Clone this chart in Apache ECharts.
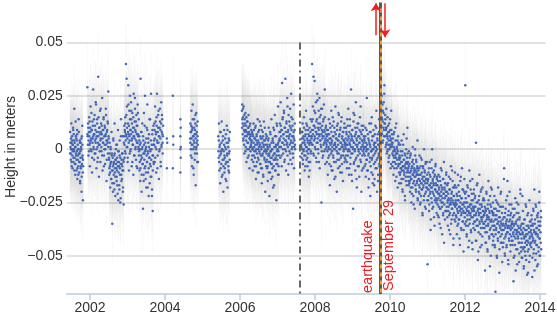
<!DOCTYPE html>
<html><head><meta charset="utf-8">
<script src="https://cdn.jsdelivr.net/npm/echarts@6/dist/echarts.min.js"></script>
<style>html,body{margin:0;padding:0;background:#fff}#c{width:557px;height:318px}</style>
</head><body><div id="c"></div>
<script>
// ---- data (heights in millimetres, dates in decimal years) ----
const segStart = [2001.47, 2001.93, 2002.505, 2002.905, 2003.305, 2003.705, 2004.67, 2005.42,
  2006.05, 2006.305, 2006.705, 2007.055, 2007.63, 2007.905, 2008.305, 2008.805, 2009.305,
  2009.76, 2009.905, 2010.055, 2010.255, 2010.505, 2010.755, 2011.005, 2011.255, 2011.505,
  2011.755, 2012.005, 2012.255, 2012.505, 2012.755, 2013.005, 2013.255, 2013.505, 2013.755];
const segEnd = [2001.82, 2002.5, 2002.9, 2003.3, 2003.7, 2003.95, 2004.88, 2005.73,
  2006.3, 2006.7, 2007.05, 2007.47, 2007.9, 2008.3, 2008.8, 2009.3, 2009.73,
  2009.9, 2010.05, 2010.25, 2010.5, 2010.75, 2011.0, 2011.25, 2011.5, 2011.75,
  2012.0, 2012.25, 2012.5, 2012.75, 2013.0, 2013.25, 2013.5, 2013.75, 2014.03];

// first daily pass
const h2001 = [8,3,-2,5,12,-6,0,4,-9,2,10,-4,7,-1,19,3,-7,-12,1,6,-3,-10,4,9,-14,-5,0,-8,14,-2,-11,-6,3,-16,-4,-9,1,5,-13,-7,11,-3,-24,-8];
const h2002a = [29,6,12,-3,8,15,2,-8,10,20,4,-1,9,-11,13,5,28,0,7,-5,16,11,-2,3,21,-9,6,14,1,-4,34,8,-13,10,2,18,-6,5,12,-1,7,24,-10,3,9,15,-3,0,11,-7,6,19,2,-15,8,4,13,-2,27,5];
const h2002b = [-4,-12,3,-8,-18,1,-6,-14,8,-2,-35,-10,-20,5,-7,-16,-3,12,-11,-22,-5,0,-9,-13,2,-17,-6,9,-24,-1,-8,-19,4,-12,-4,-23,14,-15,-7,-2,-10,6,-18,-5,-26];
const h2003a = [3,11,-4,8,15,-2,40,6,33,20,1,-6,12,30,7,-10,18,4,25,-1,9,22,14,-8,5,17,2,10,-12,26,6,-3,13,19,0,8,-5,16,11,3,-9,21,7,1,14];
const h2003b = [-3,6,-10,2,-15,33,-5,8,-20,0,12,-7,-28,4,-12,17,-2,-9,25,3,-14,1,-18,10,-6,21,-1,-11,5,-22,7,-4,-16,14,0,-8,26,-13,2,-19,9,-29,-3,11,-7];
const h2003c = [4,12,-6,20,1,8,-11,15,26,3,-3,10,18,-14,6,0,13,9,-8,22,2,16,7,-2,11];
const h2004 = [5,12,-3,8,18,2,-8,10,21,0,6,-12,14,3,-5,9,16,-17,7,1,11,-2,4,13,-6];
const h2005 = [6,-4,12,-10,2,-16,8,-1,-7,13,0,-12,4,-20,-5,9,-3,-9,1,-14,7,-6,11,-2,-18,3,-8,5,-11,-1,8];
const h2006a = [18,21,12,15,4,20,9,-2,14,6,17,1,11,-6,8,13,3,-4,10,16,0,7,-9,5,12,-1,2,9];
const h2006b = [3,-5,8,0,-10,6,12,-3,1,-8,5,10,-1,-14,4,7,-6,2,14,-4,0,-11,9,3,-2,-7,6,11,-9,1,-16,5,-3,8,-12,2,13,-1,-5,4,-20,0,7,-8];
const h2006c = [-2,6,-9,1,-15,4,-6,10,-3,-22,2,-11,7,-1,-7,14,-4,0,-13,5,-18,3,-8,9,-2,16,-5,-10,1,6,-24,-3,11,-7,2,20,-1,-12,4,8];
const h2007a = [5,12,-4,22,1,9,-8,31,3,15,-2,7,18,-6,10,0,33,4,-10,13,2,24,-3,8,-12,16,6,-1,11,19,-5,3,26,9,-7,1,14,-2,6,21,-9,4,12,0];
const h2007b = [2,-4,8,0,12,-7,5,-1,15,3,-10,6,-3,9,18,-5,1,11,-8,4,-2,7,-13,0,10,3,-6,14,-1,6];
const h2008a = [6,13,40,2,20,9,34,-3,11,32,5,17,0,22,8,-6,14,26,3,10,-2,18,7,24,-9,12,4,16,1,-25,9,19,-4,6,13,2,21,-1,8,15,-7,5,11,3];
const h2008b = [1,-6,9,4,-12,7,0,14,-3,5,-17,10,2,-8,18,3,-1,11,-10,6,-4,13,0,-14,8,2,20,-6,5,1,-20,9,-2,12,-9,4,16,-5,7,0,-11,10,3,-3,15,-7,6,1,-15,8,-1,4,12,-4,2];
const h2009a = [3,-5,10,0,7,-9,14,2,-3,19,5,-12,8,-1,11,-7,4,28,-2,6,-15,9,1,-28,13,3,-6,16,0,-10,7,22,-4,5,-18,10,2,-8,12,-1,6,-13,3,15,-5,8,0,-20,11,4,-3,9,-9,1,6];
const h2009b = [-2,5,-8,1,10,-13,3,-5,24,0,-10,7,-3,-18,4,12,-6,2,-22,8,-1,-11,15,-4,6,-16,0,9,-7,3,-14,-2,11,-9,1,18,-5,-20,4,7,-12,2,-3,14,-8,0];
const h2009c = [20,8,25,14,3,18,10,22,6,30,12,16,1,9,19];
const h2010a = [10,-2,6,15,0,8,-6,4,12,-3,2,9,-9,5,18,1,7];
const h2010b = [2,-8,5,-3,-12,1,8,-6,-1,-15,4,-4,12,-9,0,-2,-18,6,-7,3,-11,-5];
const h2010c = [-3,-12,2,-9,-16,-6,4,-10,-1,-20,-8,-14,7,-5,-11,-2,-24,-7,-13,0,-9,-17,-4,10,-10,-6,-15,-1];
const h2010d = [-8,-16,-4,-20,-11,-2,-14,-25,-9,-6,-18,1,-12,-22,-7,-15,-10,-28,-3,-13,-19,-5,-11,-16,-9,4,-24,-12];
const h2010e = [-10,-20,-14,-3,-18,-26,-12,-8,-22,-16,-5,-19,-30,-13,-9,-17,-24,0,-15,-11,-21,-7,-28,-14,-18,-6,-16,-54];
const h2011a = [-15,-24,-11,-19,-29,-17,-6,-21,-13,-33,-18,-9,-25,0,-20,-14,-27,-16,-10,-22,-36,-12,-19,-7,-23,-17,-30,-13];
const h2011b = [-24,-17,-31,-21,-12,-27,-19,-35,-22,-15,-28,-9,-20,-25,-18,-40,-23,-14,-30,-21,-6,-26,-19,-33,-16,-22,-29,-11];
const h2011c = [-22,-29,-17,-25,-36,-21,-27,-13,-31,-24,-19,-40,-26,-8,-23,-33,-20,-28,-15,-25,-45,-22,-30,-18,-26,-11,-34,-24];
const h2011d = [-31,-18,-26,-40,-22,-29,-12,-35,-24,-20,-33,-27,-45,-15,-28,-37,-23,-30,-9,-26,-34,-19,-29,-38,-25,-14,-32,-21];
const h2012a = [30,-25,-36,-20,-41,-29,-17,-33,-27,-46,-22,-30,-10,-35,-26,-31,-19,-39,-28,-24,-44,-14,-32,-27,-37,-21,-29,-34];
const h2012b = [-27,-38,-22,-31,3,-43,-25,-33,-16,-29,-36,-48,-24,-30,-12,-35,-28,-40,-20,-32,-26,-45,-34,-18,-29,-37,-23,-31];
const h2012c = [-35,-24,-30,-57,-39,-28,-44,-20,-33,-31,-47,-26,-36,-15,-32,-41,-29,-38,-22,-34,-50,-27,-33,-19,-40,-30,-25,-43];
const h2012d = [-30,-41,-36,-22,-45,-33,-67,-28,-38,-31,-50,-25,-35,-42,-18,-34,-39,-29,-47,-32,-37,-21,-44,-35,-27,-40,-53,-33];
const h2013a = [-38,-27,-44,-32,-9,-36,-49,-30,-41,-35,-24,-46,-33,-39,-15,-37,-52,-29,-42,-34,-20,-40,-31,-45,-36,-26,-43,-35];
const h2013b = [-34,-45,-28,-40,-62,-36,-31,-50,-38,-23,-42,-35,-47,-30,-39,-54,-33,-41,-26,-44,-37,-49,-32,-40,-19,-36,-46,-38];
const h2013c = [-42,-35,-51,-39,-29,-46,-37,-55,-41,-33,-48,-44,-26,-40,-52,-38,-45,-31,-43,-58,-36,-47,-39,-24,-50,-41,-34,-44];
const h2013d = [-36,-46,-31,-40,-60,-35,-43,-28,-49,-38,-19,-44,-33,-52,-39,-27,-45,-37,-55,-32,-41,-30,-48,-36,-25,-42,-50,-34,-39,-29,-47];

// second daily pass (the days in between)
const k2001 = [-2,1,-5,0,3,-8,6,-3,2,-1,9,-6,0,4,-10,-4,1,-7,13,-2,5,-5,-1,7,-9,2,-3,-12,0,8,-6,-2,4,-15,-1,3,-8,0,-20,6,-4,2,-11,-5];
const k2002a = [7,2,10,4,-1,6,13,3,8,0,5,17,9,-4,3,11,6,1,14,7,-2,4,9,22,5,0,8,12,-6,3,6,15,2,10,-1,7,4,19,8,1,11,-3,5,9,3,14,-8,6,2,10,0,7,16,4,-5,9,3,12,1,6];
const k2002b = [-5,-9,-2,-11,-7,0,-14,-6,-3,-10,-16,-4,-8,4,-12,-6,-19,-2,-9,-13,-5,-7,2,-15,-10,-4,-21,-8,-1,-11,-6,-17,-3,-9,-25,-7,6,-12,-5,-14,-8,-2,-20,-10,-6];
const k2003a = [6,2,9,-1,12,4,7,16,1,10,5,-4,8,21,3,11,6,-2,14,9,0,7,18,4,12,-6,8,2,15,6,10,-3,5,24,9,1,13,4,-8,7,11,3,17,6,0];
const k2003b = [-1,4,-6,0,-9,3,-3,8,-12,-4,1,-7,6,-2,-15,2,-5,11,-1,-8,0,-11,5,-3,-6,9,-18,-2,3,-9,1,-4,14,-7,-1,-13,4,-5,0,-22,7,-3,-10,2,-6];
const k2003c = [2,9,5,-4,13,7,0,11,4,-9,8,16,3,6,-1,10,19,5,-6,12,1,8,14,3,6];
const k2004 = [3,8,0,11,5,-4,9,2,14,6,-9,4,10,1,7,-2,12,5,0,17,3,8,-6,6,2];
const k2005 = [-1,4,-6,1,-3,8,-9,-2,3,-13,0,-5,6,-8,-1,2,-11,-4,5,-7,0,-15,3,-3,9,-6,1,-10,-2,4,-5];
const k2006a = [10,14,7,19,5,11,2,16,8,12,-1,9,4,15,6,0,13,7,3,10,-3,8,5,11,1,6,4,7];
const k2006b = [1,4,-3,7,0,-6,3,9,-1,5,-4,2,11,-8,0,6,-2,3,-11,4,8,-5,1,-1,13,2,-7,5,-3,0,9,-9,3,-2,6,-13,1,4,-4,10,-1,2,-6,5];
const k2006c = [-1,-5,2,-8,0,-3,5,-11,-2,1,-6,8,-4,-1,-14,3,-7,0,-9,4,-3,10,-5,-17,1,-2,6,-10,-4,2,-7,12,-1,-5,0,-12,3,-8,-3,1];
const k2007a = [4,8,1,11,6,-3,9,3,14,0,7,5,17,2,-5,10,4,8,-1,12,6,3,20,1,9,-7,5,13,2,7,-2,10,4,15,0,6,11,3,-4,8,5,1,9,2];
const k2007b = [1,5,-2,8,3,-5,6,0,10,-3,4,2,-8,7,1,12,-1,5,-4,3,9,0,-6,6,2,-10,4,8,-2,3];
const k2008a = [5,9,2,14,7,-2,11,4,18,6,1,10,8,-4,13,3,7,23,5,0,12,9,-6,6,15,4,10,2,19,7,-1,11,5,8,-3,14,6,3,9,28,4,0,10,7];
const k2008b = [2,6,-1,4,9,-4,1,7,-7,3,12,0,5,-2,8,-10,4,1,15,-3,6,2,-6,10,0,3,-13,7,1,5,-1,11,-5,4,2,17,-2,6,0,-8,9,3,-4,13,1,-11,5,2,8,-3,4,0,10,-6,3];
const k2009a = [1,5,-3,8,2,-6,4,11,-1,6,0,-9,3,14,2,-4,7,1,-12,5,9,-2,4,0,17,-7,3,6,-1,10,-5,2,8,-14,4,1,12,-3,6,0,-8,3,9,-2,5,20,-6,1,7,-10,4,2,-1,11,3];
const k2009b = [0,4,-3,6,-7,1,-1,9,-5,2,-10,0,5,-2,-14,3,8,-4,1,-8,12,-1,-5,4,0,-12,6,-3,2,-17,1,7,-6,3,-1,10,-9,0,5,-4,-15,2,-2,8,-7,1];
const k2009c = [11,15,7,21,13,4,17,9,26,12,6,14,10,2];
const k2010a = [3,7,-1,5,11,2,-4,8,0,6,14,1,4,-7,9,3];
const k2010b = [-2,3,-6,-1,7,-4,-9,0,-3,10,-7,-2,-13,1,-5,4,-1,-8,2,-4,-16];
const k2010c = [-7,-4,-11,-1,-9,-14,-6,-3,-19,-8,2,-10,-5,-12,-8,-22,-3,-9,-15,-6,5,-11,-7,-2,-13,-9,-17];
const k2010d = [-11,-7,-15,-13,-3,-18,-10,-14,-21,-8,-12,-5,-16,-26,-11,-9,-13,0,-17,-10,-20,-6,-12,-15,-8,-23,-12];
const k2010e = [-14,-17,-9,-21,-15,-12,-25,-4,-16,-19,-11,-14,-31,-8,-18,-15,-22,-13,-10,-27,-16,-6,-20,-14,-18,-12,-24];
const k2011a = [-19,-14,-22,-9,-26,-17,-12,-20,-38,-16,-23,-5,-18,-28,-15,-11,-21,-17,-32,-13,-24,-19,-8,-16,-25,-20,-14];
const k2011b = [-20,-26,-15,-23,-32,-18,-21,-13,-28,-24,-37,-17,-22,-10,-27,-19,-25,-31,-14,-21,-44,-18,-23,-16,-29,-20,-12];
const k2011c = [-27,-20,-32,-24,-16,-29,-23,-38,-19,-26,-30,-14,-25,-35,-21,-28,-10,-24,-31,-18,-42,-26,-22,-33,-17,-27,-25];
const k2011d = [-26,-32,-21,-28,-36,-24,-30,-17,-33,-27,-42,-22,-29,-25,-13,-31,-38,-23,-28,-19,-34,-26,-48,-30,-20,-27,-35];
const k2012a = [-30,-23,-34,-28,-40,-25,-31,-18,-36,-29,-22,-43,-27,-33,-15,-30,-38,-26,-32,-21,-29,-47,-24,-35,-28,-19,-31];
const k2012b = [-23,-34,-27,-43,-30,-36,-17,-33,-25,-52,-28,-39,-31,-22,-34,-26,-46,-30,-37,-19,-33,-27,-41,-32,-24,-35,-29];
const k2012c = [-31,-37,-27,-34,-44,-29,-36,-21,-39,-32,-48,-28,-35,-24,-33,-42,-30,-55,-26,-37,-18,-34,-40,-29,-36,-45,-31];
const k2012d = [-34,-38,-28,-36,-46,-31,-40,-24,-37,-33,-51,-29,-35,-43,-26,-39,-32,-58,-36,-27,-41,-34,-20,-38,-44,-30,-36];
const k2013a = [-46,-35,-38,-14,-42,-32,-50,-37,-28,-40,-34,-45,-36,-22,-39,-31,-54,-36,-43,-26,-37,-33,-48,-38,-30,-41,-35];
const k2013b = [-37,-43,-32,-39,-51,-35,-41,-28,-45,-38,-57,-34,-40,-25,-38,-47,-36,-42,-30,-39,-53,-33,-44,-37,-21,-40,-48];
const k2013c = [-51,-44,-22,-40,-47,-35,-56,-42,-33,-46,-38,-50,-41,-27,-43,-36,-59,-40,-48,-30,-44,-37,-53,-42,-34,-45,-39];
const k2013d = [-38,-44,-33,-41,-51,-36,-42,-29,-47,-39,-57,-35,-43,-26,-40,-49,-37,-45,-31,-40,-54,-34,-46,-38,-20,-42,-50,-36,-44,-32];

const segHeights = [h2001,h2002a,h2002b,h2003a,h2003b,h2003c,h2004,h2005,
  h2006a,h2006b,h2006c,h2007a,h2007b,h2008a,h2008b,h2009a,h2009b,
  h2009c,h2010a,h2010b,h2010c,h2010d,h2010e,h2011a,h2011b,h2011c,
  h2011d,h2012a,h2012b,h2012c,h2012d,h2013a,h2013b,h2013c,h2013d];
const segHeights2 = [k2001,k2002a,k2002b,k2003a,k2003b,k2003c,k2004,k2005,
  k2006a,k2006b,k2006c,k2007a,k2007b,k2008a,k2008b,k2009a,k2009b,
  k2009c,k2010a,k2010b,k2010c,k2010d,k2010e,k2011a,k2011b,k2011c,
  k2011d,k2012a,k2012b,k2012c,k2012d,k2013a,k2013b,k2013c,k2013d];

const sparseYears = [2004.05,2004.06,2004.05,2004.21,2004.22,2004.22,2004.21,2004.41,2004.42,2004.41,2004.42,2004.41,2004.42,2004.41];
const sparseHeights = [5,3,-9,25,6,2,-9,14,10,6,1,0,-4,-11];

const errorHalf = 20;          // mm, measurement uncertainty
const yearTicks = [2002,2004,2006,2008,2010,2012,2014];
const heightTicks = [-0.05,-0.025,0,0.025,0.05];
const referenceYear = 2007.6;
const quakeYear = 2009.745;

// ---- build series ----
const points = [];
segHeights.forEach((vals, k) => {
  const s = segStart[k], e = segEnd[k], n = vals.length;
  vals.forEach((v, i) => points.push([s + (e - s) * i / (n - 1), v / 1000]));
});
segHeights2.forEach((vals, k) => {
  const s = segStart[k], e = segEnd[k], n = vals.length;
  vals.forEach((v, i) => points.push([s + (e - s) * (i + 0.5) / n, v / 1000]));
});
sparseYears.forEach((y, i) => points.push([y, sparseHeights[i] / 1000]));

const FONT = '"Liberation Sans", Arial, sans-serif';
const YMIN = -0.068, YMAX = 0.07;
const chart = echarts.init(document.getElementById('c'));
chart.setOption({
  animation: false,
  backgroundColor: '#fff',
  grid: { left: 66.7, right: 11.3, top: 0, bottom: 24, containLabel: false, outerBoundsMode: 'none' },
  xAxis: {
    type: 'value', min: 2001.38, max: 2014.15,
    axisLine: { show: true, onZero: false, lineStyle: { color: '#b9cbe3', width: 1.5 } },
    axisTick: { show: true, length: 6, lineStyle: { color: '#b9cbe3', width: 1.5 }, customValues: yearTicks },
    axisLabel: { customValues: yearTicks, formatter: v => String(Math.round(v)), color: '#333',
      fontSize: 14, fontFamily: FONT, margin: 7 },
    splitLine: { show: false }
  },
  yAxis: {
    type: 'value', min: YMIN, max: YMAX,
    name: 'Height in meters', nameLocation: 'middle', nameGap: 49, nameRotate: 90, nameMoveOverlap: false,
    nameTextStyle: { color: '#333', fontSize: 14, fontFamily: FONT },
    axisLine: { show: false },
    axisTick: { show: false, customValues: heightTicks },
    axisLabel: { customValues: heightTicks, color: '#333', fontSize: 14, fontFamily: FONT, margin: 4,
      formatter: v => (Math.abs(v) < 1e-9 ? '0' : String(+v.toFixed(3)).replace('-', '\u2212')) },
    splitLine: { show: true, lineStyle: { color: '#e2e2e2', width: 2 } }
  },
  series: [
    {
      type: 'custom', silent: true, z: 1, clip: true,
      encode: { x: 0, y: 1 },
      data: points,
      renderItem: (params, api) => {
        const x = api.value(0), y = api.value(1);
        const p1 = api.coord([x, y - errorHalf / 1000]);
        const p2 = api.coord([x, y + errorHalf / 1000]);
        return { type: 'line', shape: { x1: p1[0], y1: p1[1], x2: p2[0], y2: p2[1] },
          style: { stroke: 'rgba(110,110,110,0.045)', lineWidth: 1 } };
      }
    },
    {
      type: 'scatter', z: 3, data: points, symbolSize: 2.5, silent: true,
      itemStyle: { color: '#3b61b2', opacity: 0.95 }
    },
    {
      type: 'scatter', z: 4, data: [], silent: true,
      markLine: {
        silent: true, symbol: 'none', animation: false, label: { show: false },
        data: [
          [{ coord: [referenceYear, 0.05], lineStyle: { color: '#666', width: 2, type: [7, 4, 2, 4] } },
           { coord: [referenceYear, YMIN] }],
          [{ coord: [quakeYear, 0.0688], lineStyle: { color: '#595959', width: 3, type: 'solid' } },
           { coord: [quakeYear, YMIN] }],
          [{ coord: [quakeYear, 0.066], lineStyle: { color: '#ff9c1e', width: 2, type: [4, 4] } },
           { coord: [quakeYear, YMIN] }]
        ]
      }
    },
    {
      type: 'scatter', z: 5, data: [], silent: true,
      markLine: {
        silent: true, symbol: ['none', 'arrow'], symbolSize: 8, animation: false, label: { show: false },
        lineStyle: { color: '#f21d1d', width: 1.5, type: 'solid' },
        data: [
          [{ coord: [2009.625, 0.0535] }, { coord: [2009.625, 0.0685] }],
          [{ coord: [2009.868, 0.0685] }, { coord: [2009.868, 0.0525] }]
        ]
      }
    }
  ]
});

const base = chart.convertToPixel({ gridIndex: 0 }, [quakeYear, YMIN]);
chart.setOption({
  graphic: [
    { type: 'text', x: base[0] - 12, y: base[1] - 1, rotation: Math.PI / 2, silent: true, z: 10,
      style: { text: 'earthquake', fill: '#ee1c24', font: '14.5px ' + FONT, align: 'left', verticalAlign: 'middle' } },
    { type: 'text', x: base[0] + 9, y: base[1] - 3, rotation: Math.PI / 2, silent: true, z: 10,
      style: { text: 'September 29', fill: '#ee1c24', font: '14.5px ' + FONT, align: 'left', verticalAlign: 'middle' } }
  ]
});
</script></body></html>
